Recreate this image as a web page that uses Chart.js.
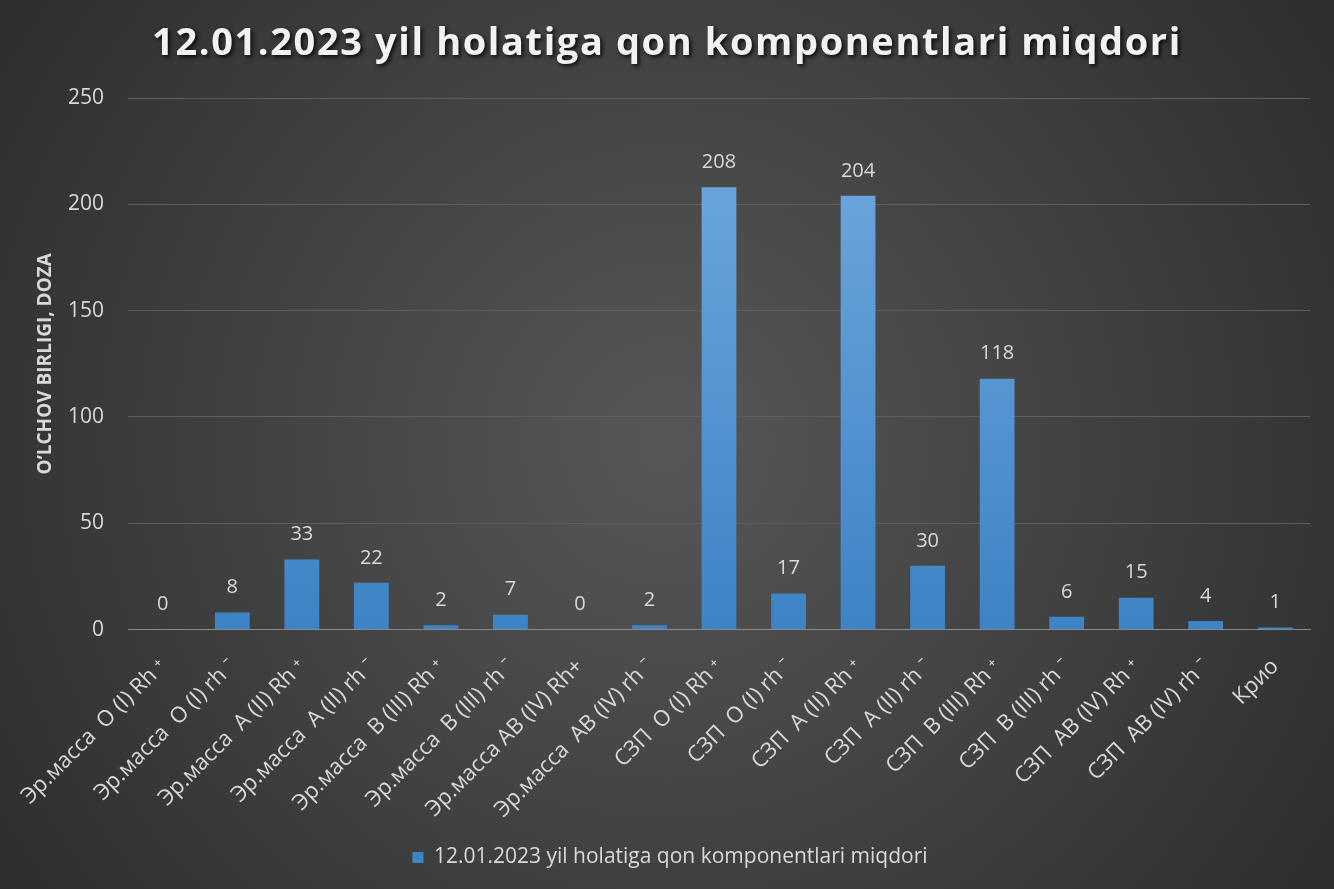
<!DOCTYPE html>
<html>
<head>
<meta charset="utf-8">
<script src="https://cdn.jsdelivr.net/npm/chart.js@4/dist/chart.umd.min.js"></script>
<style>
  html, body { margin: 0; padding: 0; background: #3a3a3a; }
  #wrap { width: 1334px; height: 889px; }
</style>
</head>
<body>
<div id="wrap"><canvas id="myChart" width="1334" height="889"></canvas></div>
<script>
// chart data
var categories = [
  'Эр.масса  O (I) Rh ⁺', 'Эр.масса  O (I) rh ⁻', 'Эр.масса  A (II) Rh ⁺', 'Эр.масса  A (II) rh ⁻',
  'Эр.масса  B (III) Rh ⁺', 'Эр.масса  B (III) rh ⁻', 'Эр.масса AB (IV) Rh+', 'Эр.масса  AB (IV) rh ⁻',
  'СЗП  O (I) Rh ⁺', 'СЗП  O (I) rh ⁻', 'СЗП  A (II) Rh ⁺', 'СЗП  A (II) rh ⁻',
  'СЗП  B (III) Rh ⁺', 'СЗП  B (III) rh ⁻', 'СЗП  AB (IV) Rh ⁺', 'СЗП  AB (IV) rh ⁻', 'Крио'
];
var values = [0, 8, 33, 22, 2, 7, 0, 2, 208, 17, 204, 30, 118, 6, 15, 4, 1];
var seriesName = '12.01.2023 yil holatiga qon komponentlari miqdori';
var yTicks = [0, 50, 100, 150, 200, 250];
var yTitle = 'O\u2019LCHOV BIRLIGI, DOZA';

var bgPlugin = {
  id: 'bg',
  beforeDraw: function (chart) {
    var c = chart.ctx, w = chart.width, h = chart.height;
    var g = c.createRadialGradient(w / 2, h / 2, 0, w / 2, h / 2, w * 0.62);
    g.addColorStop(0, '#575757');
    g.addColorStop(1, '#2c2c2c');
    c.save();
    c.fillStyle = g;
    c.fillRect(0, 0, w, h);
    c.restore();
  }
};

// title drawn by hand so it can carry a shadow
var titlePlugin = {
  id: 'shadowTitle',
  afterDraw: function (chart) {
    var c = chart.ctx;
    c.save();
    c.font = 'bold 38px "Open Sans"';
    c.letterSpacing = '1.6px';
    c.fillStyle = '#f2f2f2';
    c.textAlign = 'center';
    c.textBaseline = 'middle';
    c.shadowColor = 'rgba(0,0,0,0.85)';
    c.shadowBlur = 4;
    c.shadowOffsetX = 2;
    c.shadowOffsetY = 2;
    c.fillText(seriesName, 667, 44);
    c.restore();
  }
};

var labelPlugin = {
  id: 'valLabels',
  afterDatasetsDraw: function (chart) {
    var c = chart.ctx;
    var meta = chart.getDatasetMeta(0);
    c.save();
    c.font = '20px "Open Sans"';
    c.fillStyle = '#d9d9d9';
    c.textAlign = 'center';
    c.textBaseline = 'middle';
    meta.data.forEach(function (bar, i) {
      c.fillText(values[i], bar.x, bar.y - 25);
    });
    c.restore();
  }
};

window.addEventListener('load', function () {
  var ctx = document.getElementById('myChart').getContext('2d');

  var grad = ctx.createLinearGradient(0, 98, 0, 629);
  grad.addColorStop(0, '#72aae0');
  grad.addColorStop(1, '#3d84c6');

  new Chart(ctx, {
    type: 'bar',
    data: {
      labels: categories,
      datasets: [{
        label: seriesName,
        data: values,
        backgroundColor: grad,
        borderWidth: 0,
        categoryPercentage: 1,
        barPercentage: 0.5
      }]
    },
    options: {
      responsive: false,
      animation: false,
      layout: { padding: { left: 30, right: 24, top: 98, bottom: 11 } },
      plugins: {
        title: { display: false },
        legend: {
          position: 'bottom',
          labels: {
            color: '#d9d9d9',
            font: { family: 'Open Sans', size: 21 },
            boxWidth: 11,
            boxHeight: 11,
            padding: 8
          }
        },
        tooltip: { enabled: false }
      },
      scales: {
        x: {
          grid: { display: false },
          border: { color: '#8a8a8a', width: 1 },
          ticks: {
            color: '#d9d9d9',
            font: { family: 'Open Sans', size: 22 },
            minRotation: 45,
            maxRotation: 45,
            autoSkip: false,
            padding: 16
          }
        },
        y: {
          min: 0,
          max: 250,
          afterBuildTicks: function (axis) {
            axis.ticks = yTicks.map(function (v) { return { value: v }; });
          },
          grid: { color: '#5e5e5e', drawTicks: false },
          border: { display: false },
          ticks: {
            color: '#d9d9d9',
            font: { family: 'Open Sans', size: 21 },
            padding: 24
          },
          title: {
            display: true,
            text: yTitle,
            color: '#d9d9d9',
            font: { family: 'Open Sans', size: 19, weight: 'bold' },
            padding: { bottom: 0 }
          },
          afterFit: function (axis) {
            axis.width = 98;
          }
        }
      }
    },
    plugins: [bgPlugin, labelPlugin, titlePlugin]
  });
});
</script>
</body>
</html>
